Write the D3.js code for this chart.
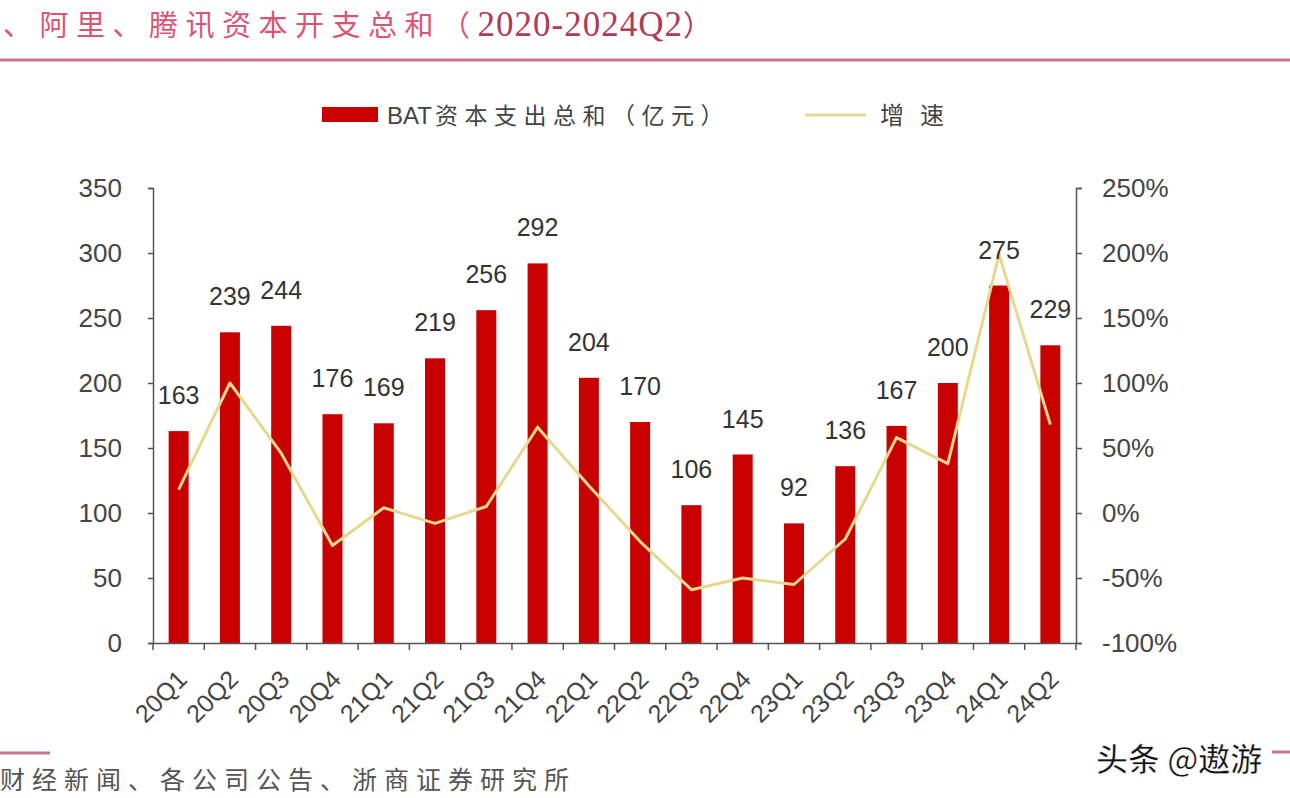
<!DOCTYPE html>
<html>
<head>
<meta charset="utf-8">
<script src="https://cdn.jsdelivr.net/npm/d3@7/dist/d3.min.js"></script>
<style>
html,body{margin:0;padding:0;background:#fff;overflow:hidden;}
svg{display:block;}
</style>
</head>
<body>
<svg id="chart" width="1290" height="798"></svg>
<script>
const categories = ["20Q1","20Q2","20Q3","20Q4","21Q1","21Q2","21Q3","21Q4","22Q1","22Q2","22Q3","22Q4","23Q1","23Q2","23Q3","23Q4","24Q1","24Q2"];
const capex = [163,239,244,176,169,219,256,292,204,170,106,145,92,136,167,200,275,229];
const growth = [18,100,46,-25,4,-8,5,66,21,-22,-59,-50,-55,-20,58,38,199,68];
const leftTicks = [0,50,100,150,200,250,300,350];
const rightTicks = [-100,-50,0,50,100,150,200,250];
const titleCn = "、阿里、腾讯资本开支总和（";
const titleNum = "2020-2024Q2";
const titleEnd = "）";
const legendBarLatin = "BAT";
const legendBarCn = "资本支出总和（亿元）";
const legendLine = "增速";
const sourceText = "财经新闻、各公司公告、浙商证券研究所";
const watermark = "头条 @遨游";

const svg = d3.select("#chart");
const font = "Arial, 'Liberation Sans', 'Noto Sans CJK SC', sans-serif";
const cjk = "'Noto Sans CJK SC', sans-serif";

const pL = 153, pR = 1076, pT = 188, pB = 643;
const x = d3.scaleBand().domain(categories).range([pL, pR]).padding(0);
const yL = d3.scaleLinear().domain([0,350]).range([pB, pT]);
const yR = d3.scaleLinear().domain([-100,250]).range([pB, pT]);
const bw = x.bandwidth();
const barW = bw * 0.39;

// Title
const t = svg.append("text").attr("x", 3).attr("y", 36);
t.append("tspan").attr("font-family", cjk).attr("font-size", 29)
  .attr("letter-spacing", 7.5).attr("fill", "#dc5474").text(titleCn);
t.append("tspan").attr("font-family", "'Liberation Serif', 'DejaVu Serif', serif")
  .attr("font-size", 35).attr("letter-spacing", 1).attr("fill", "#b23a58").text(titleNum);
t.append("tspan").attr("font-family", cjk).attr("font-size", 29)
  .attr("fill", "#b23a58").text(titleEnd);
svg.append("line").attr("x1", 0).attr("x2", 1290).attr("y1", 60).attr("y2", 60)
  .attr("stroke", "#c2788a").attr("stroke-width", 3);

// Legend
svg.append("rect").attr("x", 322).attr("y", 107).attr("width", 56).attr("height", 15)
  .attr("fill", "#c80000");
const lt = svg.append("text").attr("x", 387).attr("y", 124).attr("fill", "#444");
lt.append("tspan").attr("font-family", font).attr("font-size", 24).text(legendBarLatin);
lt.append("tspan").attr("font-family", cjk).attr("font-size", 23)
  .attr("letter-spacing", 6.5).attr("dx", 3).text(legendBarCn);
svg.append("line").attr("x1", 805).attr("x2", 866).attr("y1", 115).attr("y2", 115)
  .attr("stroke", "#e3d990").attr("stroke-width", 3);
svg.append("text").attr("x", 880).attr("y", 124).attr("font-family", cjk)
  .attr("font-size", 24).attr("letter-spacing", 16).attr("fill", "#444").text(legendLine);

// Bars
svg.append("g").selectAll("rect").data(capex).join("rect")
  .attr("x", (d,i) => x(categories[i]) + (bw - barW)/2)
  .attr("y", d => yL(d))
  .attr("width", barW)
  .attr("height", d => yL(0) - yL(d))
  .attr("fill", "#c80000");

// Growth line
const line = d3.line()
  .x((d,i) => x(categories[i]) + bw/2)
  .y(d => yR(d));
svg.append("path").datum(growth).attr("d", line)
  .attr("fill", "none").attr("stroke", "#e6d88e").attr("stroke-width", 3)
  .attr("stroke-linejoin", "round");

// Value labels
svg.append("g").selectAll("text").data(capex).join("text")
  .attr("x", (d,i) => x(categories[i]) + bw/2)
  .attr("y", d => yL(d) - 27)
  .attr("text-anchor", "middle")
  .attr("font-family", font).attr("font-size", 25).attr("fill", "#333")
  .text(d => d);

// Axes
const axisColor = "#555";
const gL = svg.append("g").attr("transform", `translate(${pL},0)`)
  .call(d3.axisLeft(yL).tickValues(leftTicks).tickSize(5).tickPadding(26));
const gR = svg.append("g").attr("transform", `translate(${pR},0)`)
  .call(d3.axisRight(yR).tickValues(rightTicks).tickSize(6).tickPadding(20).tickFormat(d => d + "%"));
const gX = svg.append("g").attr("transform", `translate(0,${pB})`)
  .call(d3.axisBottom(x).tickSize(0).tickFormat(""));
[gL, gR, gX].forEach(g => {
  g.select(".domain").attr("stroke", axisColor).attr("stroke-width", 1.5);
  g.selectAll(".tick line").attr("stroke", axisColor).attr("stroke-width", 1.5);
  g.selectAll("text").attr("font-family", font).attr("font-size", 26).attr("fill", "#444");
});
// x tick marks at band boundaries
const bounds = categories.map(c => x(c)).concat([pR]);
gX.append("g").selectAll("line").data(bounds).join("line")
  .attr("x1", d => d).attr("x2", d => d).attr("y1", 0).attr("y2", 7)
  .attr("stroke", axisColor).attr("stroke-width", 1.5);
// x labels rotated
svg.append("g").selectAll("text").data(categories).join("text")
  .attr("transform", d => `translate(${x(d) + bw/2 + 10},${pB + 38}) rotate(-45)`)
  .attr("text-anchor", "end")
  .attr("font-family", font).attr("font-size", 25).attr("fill", "#444")
  .text(d => d);

// Source
svg.append("line").attr("x1", 0).attr("x2", 50).attr("y1", 753).attr("y2", 753)
  .attr("stroke", "#c2788a").attr("stroke-width", 3);
svg.append("line").attr("x1", 1272).attr("x2", 1290).attr("y1", 752).attr("y2", 752)
  .attr("stroke", "#c2788a").attr("stroke-width", 3);
svg.append("text").attr("x", 0).attr("y", 789).attr("font-family", cjk)
  .attr("font-size", 25).attr("letter-spacing", 7).attr("fill", "#555").text(sourceText);

// Watermark
svg.append("text").attr("x", 1096).attr("y", 771).attr("font-family", cjk)
  .attr("font-size", 32).attr("font-weight", 500).attr("fill", "#111")
  .attr("stroke", "#fff").attr("stroke-width", 0.6).text(watermark);
</script>
</body>
</html>
